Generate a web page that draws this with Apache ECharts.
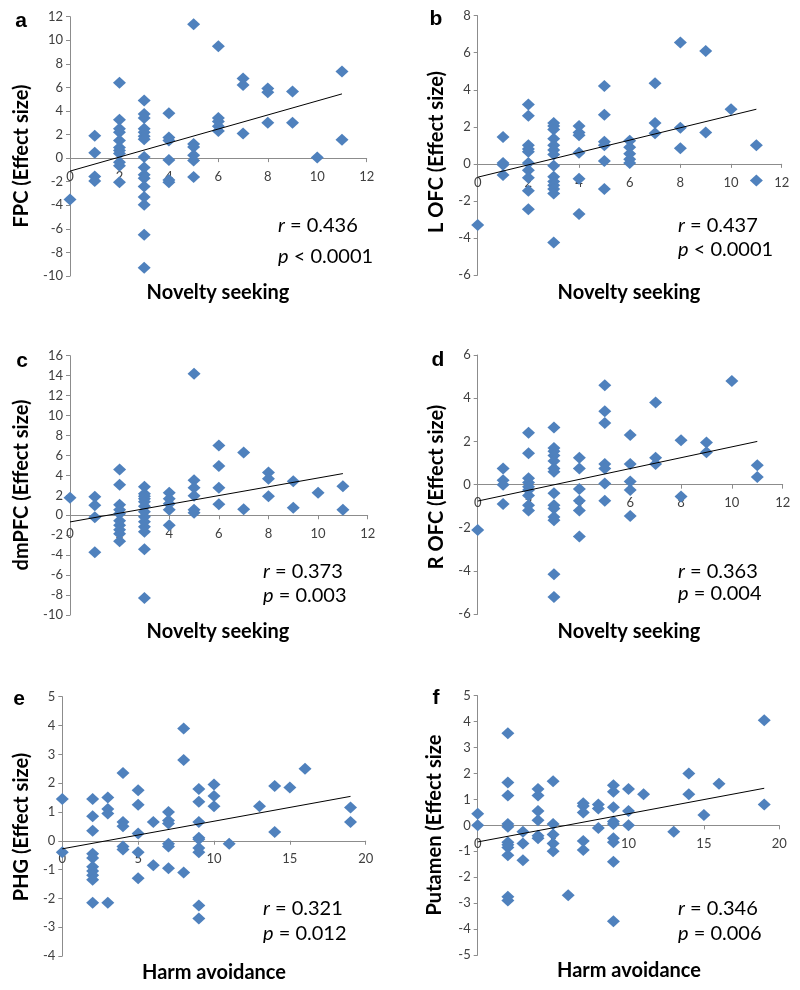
<!DOCTYPE html>
<html><head><meta charset="utf-8">
<script src="https://cdn.jsdelivr.net/npm/echarts@6/dist/echarts.min.js"></script>
<style>html,body{margin:0;padding:0;background:#fff}#c{width:800px;height:990px}</style>
</head><body><div id="c"></div>
<script>
// ---- data: [score, effect size] ----
const fpcData = [
 [0,-3.5],
 [1,1.9],[1,0.45],[1,-1.55],[1,-1.95],
 [2,6.4],[2,3.25],[2,2.5],[2,2.2],[2,1.5],[2,0.9],[2,0.65],[2,0.4],[2,-0.35],[2,-0.65],[2,-2.05],
 [3,4.9],[3,3.75],[3,3.4],[3,2.5],[3,2.2],[3,1.85],[3,1.6],[3,0.1],[3,-0.8],[3,-1.4],[3,-1.7],[3,-2.4],[3,-3.3],[3,-3.95],[3,-6.5],[3,-9.3],
 [4,3.8],[4,1.75],[4,1.5],[4,-0.15],[4,-1.85],[4,-2.05],
 [5,11.35],[5,1.2],[5,0.95],[5,0.25],[5,-0.2],[5,-1.6],
 [6,9.5],[6,3.4],[6,3.1],[6,2.7],[6,2.3],
 [7,6.75],[7,6.2],[7,2.1],
 [8,5.9],[8,5.6],[8,3.0],
 [9,5.65],[9,3.0],
 [10,0.05],
 [11,7.35],[11,1.55]
];
const lofcData = [
 [0,-3.3],
 [1,1.45],[1,0.05],[1,-0.05],[1,-0.6],
 [2,3.2],[2,2.6],[2,1.0],[2,0.8],[2,0.65],[2,0.05],[2,-0.35],[2,-0.75],[2,-1.45],[2,-2.45],
 [3,2.2],[3,2.05],[3,1.85],[3,1.35],[3,1.0],[3,0.75],[3,0.5],[3,-0.1],[3,-0.7],[3,-0.95],[3,-1.15],[3,-1.35],[3,-1.6],[3,-4.25],
 [4,2.05],[4,1.7],[4,1.55],[4,0.6],[4,-0.8],[4,-2.7],
 [5,4.2],[5,2.65],[5,1.2],[5,1.0],[5,0.15],[5,-1.35],
 [6,1.25],[6,0.9],[6,0.55],[6,0.25],[6,0.05],
 [7,4.35],[7,2.2],[7,1.65],
 [8,6.55],[8,1.95],[8,0.85],
 [9,6.1],[9,1.7],
 [10,2.95],
 [11,1.0],[11,-0.9]
];
const dmpfcData = [
 [0,1.75],
 [1,1.85],[1,1.0],[1,-0.2],[1,-3.7],
 [2,4.6],[2,3.05],[2,1.05],[2,0.55],[2,0.15],[2,-0.55],[2,-1.0],[2,-1.45],[2,-1.85],[2,-2.6],
 [3,2.85],[3,2.15],[3,1.9],[3,1.65],[3,1.35],[3,0.9],[3,0.35],[3,-0.15],[3,-0.65],[3,-1.15],[3,-1.65],[3,-3.4],[3,-8.3],
 [4,2.25],[4,1.65],[4,1.15],[4,0.55],[4,-1.0],
 [5,14.2],[5,3.5],[5,2.75],[5,1.95],[5,0.55],[5,0.25],
 [6,7.0],[6,4.95],[6,2.75],[6,1.1],
 [7,6.3],[7,0.6],
 [8,4.3],[8,3.65],[8,1.9],
 [9,3.4],[9,0.75],
 [10,2.25],
 [11,2.9],[11,0.55]
];
const rofcData = [
 [0,-2.1],
 [1,0.75],[1,0.2],[1,0.0],[1,-0.9],
 [2,2.4],[2,1.45],[2,0.3],[2,0.1],[2,-0.1],[2,-0.25],[2,-0.5],[2,-0.95],[2,-1.2],
 [3,2.65],[3,1.7],[3,1.55],[3,1.35],[3,1.1],[3,0.75],[3,0.6],[3,-0.4],[3,-0.95],[3,-1.1],[3,-1.5],[3,-1.65],[3,-4.15],[3,-5.2],
 [4,1.25],[4,0.75],[4,-0.2],[4,-0.75],[4,-1.2],[4,-2.4],
 [5,4.6],[5,3.4],[5,2.85],[5,0.95],[5,0.75],[5,0.05],[5,-0.75],
 [6,2.3],[6,0.95],[6,0.15],[6,-0.25],[6,-1.45],
 [7,3.8],[7,1.25],[7,0.95],
 [8,2.05],[8,-0.55],
 [9,1.95],[9,1.5],
 [10,4.8],
 [11,0.9],[11,0.35]
];
const phgData = [
 [0,1.45],[0,-0.4],
 [2,1.45],[2,0.85],[2,0.35],[2,-0.45],[2,-0.6],[2,-0.9],[2,-1.05],[2,-1.2],[2,-1.35],[2,-2.15],
 [3,1.5],[3,1.1],[3,0.95],[3,-2.15],
 [4,2.35],[4,0.65],[4,0.5],[4,-0.2],[4,-0.3],
 [5,1.75],[5,1.25],[5,0.25],[5,-0.4],[5,-1.3],
 [6,0.65],[6,-0.85],
 [7,1.0],[7,0.7],[7,0.6],[7,-0.1],[7,-0.2],[7,-0.95],
 [8,3.9],[8,2.8],[8,-1.1],
 [9,1.8],[9,1.35],[9,0.65],[9,0.1],[9,0.05],[9,-0.25],[9,-0.4],[9,-2.25],[9,-2.7],
 [10,1.95],[10,1.55],[10,1.2],
 [11,-0.1],
 [13,1.2],
 [14,1.9],[14,0.3],
 [15,1.85],
 [16,2.5],
 [19,1.15],[19,0.65]
];
const putamenData = [
 [0,0.45],[0,0.0],
 [2,3.55],[2,1.65],[2,1.15],[2,0.05],[2,-0.05],[2,-0.65],[2,-0.75],[2,-0.85],[2,-1.15],[2,-2.75],[2,-2.9],
 [3,-0.25],[3,-0.7],[3,-1.35],
 [4,1.4],[4,1.15],[4,0.55],[4,0.2],[4,-0.4],[4,-0.5],
 [5,1.7],[5,0.05],[5,-0.35],[5,-0.7],[5,-1.0],
 [6,-2.7],
 [7,0.85],[7,0.75],[7,0.5],[7,-0.6],[7,-0.95],
 [8,0.8],[8,0.65],[8,-0.1],
 [9,1.55],[9,1.3],[9,0.7],[9,0.15],[9,0.05],[9,-0.5],[9,-0.65],[9,-1.4],[9,-3.7],
 [10,1.4],[10,0.55],[10,0.0],
 [11,1.2],
 [13,-0.25],
 [14,2.0],[14,1.2],
 [15,0.4],
 [16,1.6],
 [19,4.05],[19,0.8]
];
// fitted trend lines (end points)
const fpcTrend = [[0,-1.1],[11,5.45]];
const lofcTrend = [[0,-0.72],[11,2.95]];
const dmpfcTrend = [[0,-0.67],[11,4.18]];
const rofcTrend = [[0,-0.76],[11,2.0]];
const phgTrend = [[0,-0.28],[19,1.54]];
const putamenTrend = [[0,-0.64],[19,1.43]];
// texts
const panelLetters = ['a','b','c','d','e','f'];
const yTitles = ['FPC (Effect size)','L OFC (Effect size)','dmPFC (Effect size)','R OFC (Effect size)','PHG (Effect size)','Putamen (Effect size'];
const xTitles = ['Novelty seeking','Novelty seeking','Novelty seeking','Novelty seeking','Harm avoidance','Harm avoidance'];
const rValues = ['0.436','0.437','0.373','0.363','0.321','0.346'];
const pTexts = ['< 0.0001','< 0.0001','= 0.003','= 0.004','= 0.012','= 0.006'];
// axis ranges [min,max,interval]
const xRanges = [[0,12,2],[0,12,2],[0,12,2],[0,12,2],[0,20,5],[0,20,5]];
const yRanges = [[-10,12,2],[-6,8,2],[-10,16,2],[-6,6,2],[-4,5,1],[-5,5,1]];

const datasets = [fpcData,lofcData,dmpfcData,rofcData,phgData,putamenData];
const trends = [fpcTrend,lofcTrend,dmpfcTrend,rofcTrend,phgTrend,putamenTrend];

// layout
const grids = [
 {left:70, top:16.7, width:296.7, height:259.3},
 {left:477.7, top:15.7, width:304, height:259.3},
 {left:70, top:355.7, width:297.7, height:259.3},
 {left:477.7, top:355, width:305, height:259.3},
 {left:62.3, top:696.7, width:303.4, height:259.3},
 {left:477.7, top:695.7, width:301.6, height:259.3}
];
const letterPos = [[21,21],[436,19],[22,361],[438,360],[19,699],[436,698]];
const yTitlePos = [[22,156],[437,152],[22,485],[437,487],[22,827],[435,825]];
const xTitlePos = [[218,293],[629,293],[218,632],[629,632],[214,973],[629,971]];
const statPos = [[278,226,257],[678,226,250],[263,572,596],[678,572,594],[263,909,934],[678,909,934]];

const FONT = 'Lato, "Open Sans", sans-serif';
const axisColor = '#8c8c8c';
const labelColor = '#404040';
const blue = '#4F81BD';

const option = {
  animation:false,
  backgroundColor:'#fff',
  grid: grids.map(g=>Object.assign({containLabel:false}, g)),
  xAxis: xRanges.map((r,i)=>({
    gridIndex:i, type:'value', min:r[0], max:r[1], interval:r[2], position:'bottom',
    // place the x axis where y = 0 crosses the plot
    offset: -grids[i].height * (0 - yRanges[i][0]) / (yRanges[i][1] - yRanges[i][0]),
    axisLine:{show:true, onZero:false, lineStyle:{color:axisColor, width:1}},
    axisTick:{show:true, inside:false, length:4, lineStyle:{color:axisColor}},
    axisLabel:{fontSize:13, color:labelColor, margin:12, fontFamily:FONT},
    splitLine:{show:false}
  })),
  yAxis: yRanges.map((r,i)=>({
    gridIndex:i, type:'value', min:r[0], max:r[1], interval:r[2],
    axisLine:{show:true, onZero:false, lineStyle:{color:axisColor, width:1}},
    axisTick:{show:true, inside:false, length:4, lineStyle:{color:axisColor}},
    axisLabel:{fontSize:13, color:labelColor, margin:7, fontFamily:FONT},
    splitLine:{show:false}
  })),
  series: [],
  graphic: []
};
datasets.forEach((d,i)=>{
  option.series.push({type:'scatter', xAxisIndex:i, yAxisIndex:i, data:d, symbol:'diamond', symbolSize:[13,12],
    itemStyle:{color:blue, opacity:1}, z:2});
  option.series.push({type:'line', xAxisIndex:i, yAxisIndex:i, data:trends[i], symbol:'none',
    lineStyle:{color:'#000', width:1}, z:3, silent:true});
  option.graphic.push({type:'text', x:letterPos[i][0], y:letterPos[i][1],
    style:{text:panelLetters[i], font:'bold 21px Arial, "Liberation Sans", sans-serif', fill:'#000', align:'center', verticalAlign:'middle'}});
  option.graphic.push({type:'text', x:yTitlePos[i][0], y:yTitlePos[i][1], rotation:Math.PI/2,
    style:{text:yTitles[i], font:'bold 20px '+FONT, fill:'#000', align:'center', verticalAlign:'middle'}});
  option.graphic.push({type:'text', x:xTitlePos[i][0], y:xTitlePos[i][1],
    style:{text:xTitles[i], font:'bold 20px '+FONT, fill:'#000', align:'center', verticalAlign:'middle'}});
  option.graphic.push({type:'text', x:statPos[i][0], y:statPos[i][1],
    style:{text:'{i|r} = '+rValues[i], font:'20px '+FONT, fill:'#000', align:'left', verticalAlign:'middle',
      rich:{i:{fontStyle:'italic', fontSize:20, fontFamily:FONT}}}});
  option.graphic.push({type:'text', x:statPos[i][0], y:statPos[i][2],
    style:{text:'{i|p} '+pTexts[i], font:'20px '+FONT, fill:'#000', align:'left', verticalAlign:'middle',
      rich:{i:{fontStyle:'italic', fontSize:20, fontFamily:FONT}}}});
});
const chart = echarts.init(document.getElementById('c'), null, {renderer:'canvas'});
chart.setOption(option);
</script></body></html>
